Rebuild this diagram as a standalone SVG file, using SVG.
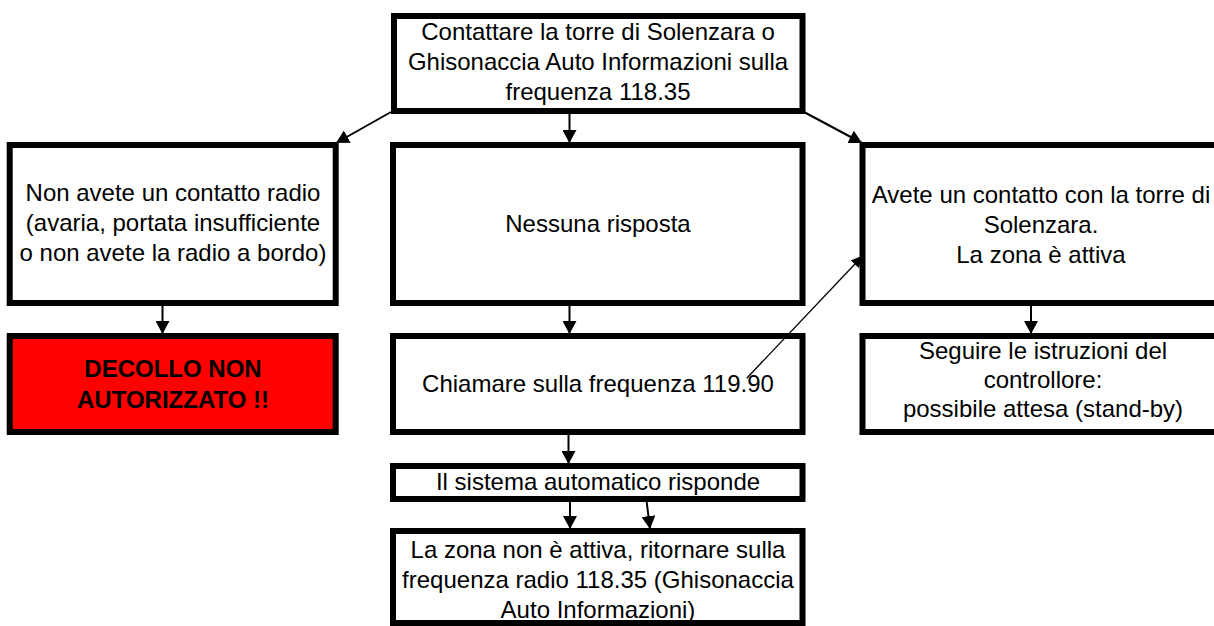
<svg xmlns="http://www.w3.org/2000/svg" width="1214" height="626" viewBox="0 0 1214 626">
  <style>
    .box { fill: #ffffff; stroke: #000000; stroke-width: 6; }
    .red { fill: #ff0000; stroke: #000000; stroke-width: 6; }
    .t { font-family: "Liberation Sans", Arial, sans-serif; font-size: 24px; fill: #000000; text-anchor: middle; }
    .b { font-weight: bold; }
    .c { stroke: #000000; stroke-width: 2; fill: none; marker-end: url(#ah); }
    .thin { stroke-width: 1.3; marker-end: url(#ahs); }
  </style>
  <defs>
    <marker id="ah" viewBox="0 0 13 14" refX="13" refY="7" markerWidth="13" markerHeight="14" markerUnits="userSpaceOnUse" orient="auto">
      <path d="M0,0 L13,7 L0,14 z" fill="#000000"/>
    </marker>
    <marker id="ahs" viewBox="0 0 12 11" refX="12" refY="5.5" markerWidth="12" markerHeight="11" markerUnits="userSpaceOnUse" orient="auto">
      <path d="M0,0 L12,5.5 L0,11 z" fill="#000000"/>
    </marker>
  </defs>

  <g id="n-top">
    <rect class="box" x="394" y="16" width="408.5" height="95"/>
    <text class="t" x="598" y="40">Contattare la torre di Solenzara o</text>
    <text class="t" x="598" y="70">Ghisonaccia Auto Informazioni sulla</text>
    <text class="t" x="598" y="100">frequenza 118.35</text>
  </g>

  <g id="n-noradio">
    <rect class="box" x="9.7" y="145" width="326" height="158"/>
    <text class="t" x="173" y="201">Non avete un contatto radio</text>
    <text class="t" x="173" y="231">(avaria, portata insufficiente</text>
    <text class="t" x="173" y="261">o non avete la radio a bordo)</text>
  </g>

  <g id="n-nessuna">
    <rect class="box" x="393" y="145" width="409.5" height="158"/>
    <text class="t" x="598" y="232">Nessuna risposta</text>
  </g>

  <g id="n-contatto">
    <rect class="box" x="862.5" y="145" width="358" height="158"/>
    <text class="t" x="1041" y="203">Avete un contatto con la torre di</text>
    <text class="t" x="1041" y="233">Solenzara.</text>
    <text class="t" x="1041" y="263">La zona è attiva</text>
  </g>

  <g id="n-decollo">
    <rect class="red" x="9.7" y="336" width="326" height="96"/>
    <text class="t b" x="173" y="377">DECOLLO NON</text>
    <text class="t b" x="173" y="408">AUTORIZZATO !!</text>
  </g>

  <g id="n-chiamare">
    <rect class="box" x="393" y="336" width="409.5" height="96"/>
    <text class="t" x="598" y="392">Chiamare sulla frequenza 119.90</text>
  </g>

  <g id="n-seguire">
    <rect class="box" x="862.5" y="336" width="358" height="96"/>
    <text class="t" x="1043" y="359">Seguire le istruzioni del</text>
    <text class="t" x="1043" y="388">controllore:</text>
    <text class="t" x="1043" y="417">possibile attesa (stand-by)</text>
  </g>

  <g id="n-sistema">
    <rect class="box" x="393" y="466" width="409.5" height="33"/>
    <text class="t" x="598" y="490">Il sistema automatico risponde</text>
  </g>

  <g id="n-zona">
    <rect class="box" x="393" y="531" width="409.5" height="92"/>
    <text class="t" x="598" y="558">La zona non è attiva, ritornare sulla</text>
    <text class="t" x="598" y="588">frequenza radio 118.35 (Ghisonaccia</text>
    <text class="t" x="598" y="618">Auto Informazioni)</text>
  </g>

  <g id="connectors">
    <line class="c" x1="391" y1="112" x2="336" y2="143"/>
    <line class="c" x1="569.5" y1="114" x2="569.5" y2="143"/>
    <line class="c" x1="804" y1="112" x2="862" y2="143"/>
    <line class="c" x1="162.5" y1="306" x2="162.5" y2="334"/>
    <line class="c" x1="569.5" y1="306" x2="569.5" y2="334"/>
    <line class="c thin" x1="746.7" y1="378.3" x2="863" y2="255.5"/>
    <line class="c" x1="568.5" y1="435" x2="568.5" y2="464"/>
    <line class="c" x1="570" y1="502" x2="570" y2="529"/>
    <line class="c" x1="646.7" y1="502" x2="650" y2="529"/>
    <line class="c" x1="1031" y1="306" x2="1031" y2="334"/>
  </g>
</svg>
